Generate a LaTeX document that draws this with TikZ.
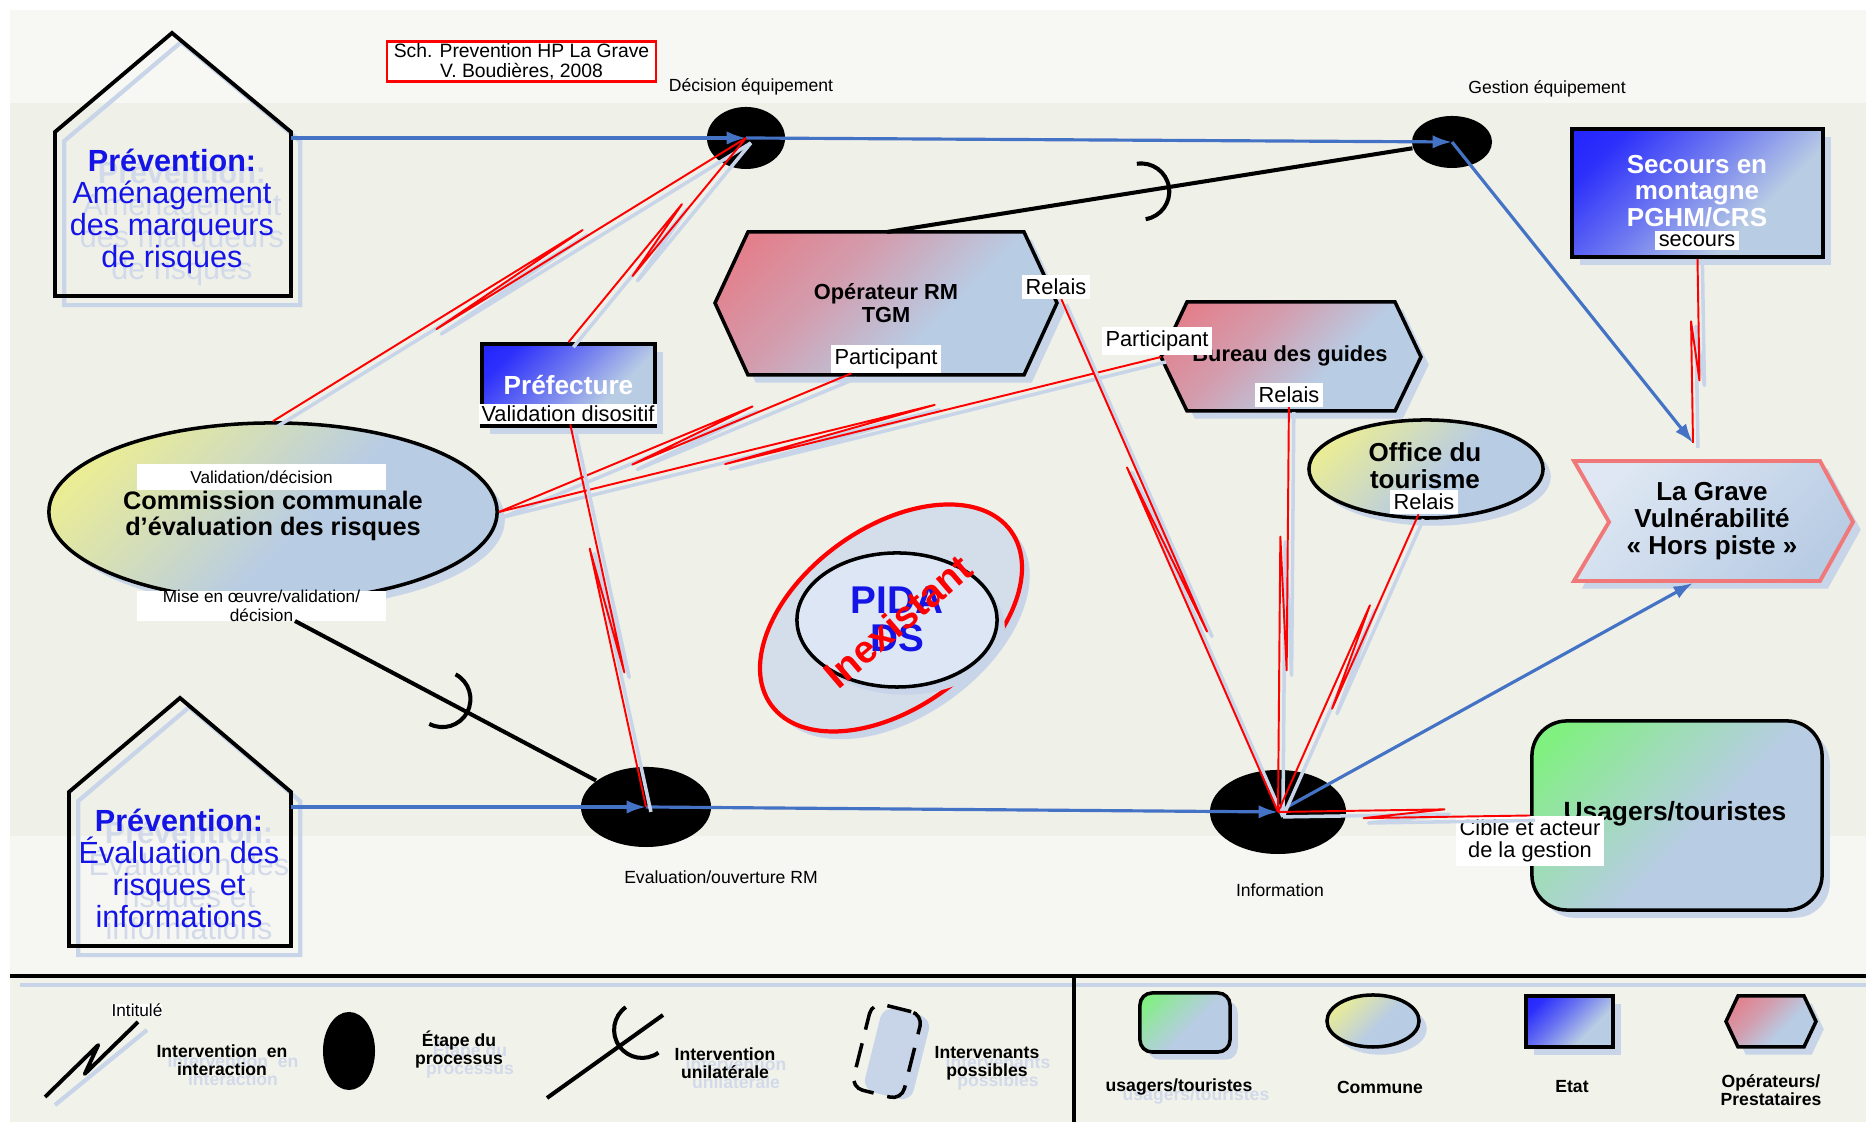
\documentclass[tikz,border=0pt]{standalone}
\usepackage{fontspec}
\setmainfont{Liberation Sans}
\usepackage{tikz}
\usetikzlibrary{positioning,arrows.meta,shapes.geometric,calc,shadows}

\definecolor{flowblue}{RGB}{68,114,196}
\definecolor{shadowblue}{RGB}{200,212,232}
\definecolor{steel}{RGB}{184,204,228}
\definecolor{stateblue}{RGB}{20,20,255}
\definecolor{opred}{RGB}{236,112,122}
\definecolor{comyellow}{RGB}{240,240,140}
\definecolor{usagreen}{RGB}{128,240,128}
\definecolor{textblue}{RGB}{20,20,230}
\definecolor{ghost}{RGB}{210,218,234}
\definecolor{gravered}{RGB}{240,120,120}
\definecolor{gravelight}{RGB}{222,231,243}
\definecolor{pidafill}{RGB}{212,222,234}
\definecolor{pidain}{RGB}{220,230,245}
\definecolor{bgtop}{RGB}{247,247,244}
\definecolor{bgmid}{RGB}{239,240,232}
\definecolor{bgbot}{RGB}{246,246,243}
\definecolor{bgleg}{RGB}{241,242,234}
\colorlet{redmid}{opred!50!steel}
\colorlet{redhigh}{opred!85!steel}
\colorlet{bluemid}{stateblue!45!steel}
\colorlet{bluehigh}{stateblue!85!steel}
\colorlet{yellowmid}{comyellow!50!steel}
\colorlet{greenmid}{usagreen!45!steel}

% corner gradients, strong colour in the top left corner only
\pgfdeclareverticalshading{redcorner}{100bp}{color(0bp)=(steel); color(40bp)=(steel); color(60bp)=(redmid); color(80bp)=(redhigh); color(100bp)=(opred)}
\pgfdeclareverticalshading{bluecorner}{100bp}{color(0bp)=(steel); color(35bp)=(steel); color(55bp)=(bluemid); color(75bp)=(bluehigh); color(100bp)=(stateblue)}
\pgfdeclareverticalshading{yellowcorner}{100bp}{color(0bp)=(steel); color(45bp)=(steel); color(62bp)=(yellowmid); color(80bp)=(comyellow); color(100bp)=(comyellow)}
\pgfdeclareverticalshading{greencorner}{100bp}{color(0bp)=(steel); color(45bp)=(steel); color(62bp)=(greenmid); color(80bp)=(usagreen); color(100bp)=(usagreen)}

\newcommand{\fsz}[2]{\fontsize{#1}{#2}\selectfont}

% red interaction link with the small N in the middle
\newcommand{\interlink}[2]{%
  \draw[interact shadow] (#1) -- ($(#1)!0.66!(#2)!1.4pt!90:(#2)$) -- ($(#1)!0.34!(#2)!1.4pt!-90:(#2)$) -- (#2);
  \draw[interact] (#1) -- ($(#1)!0.66!(#2)!1.4pt!90:(#2)$) -- ($(#1)!0.34!(#2)!1.4pt!-90:(#2)$) -- (#2);}

% half circle on a unilateral link, open side towards the source
\newcommand{\socket}[3]{%
  \draw[unilat] let \p1=($(#2)-(#1)$), \n1={atan2(\y1,\x1)} in
    ($(#1)!#3!(#2)$) ++(\n1+90:0.28cm) arc[start angle=\n1+90,end angle=\n1-90,radius=0.28cm];}

\begin{document}
\begin{tikzpicture}[x=0.01cm,y=0.01cm,
  stage/.style={ellipse,fill=black,inner sep=0pt},
  steptext/.style={font=\fsz{5}{6}},
  tag/.style={fill=white,inner sep=1pt,font=\fsz{6.2}{6.4}},
  smalltag/.style={fill=white,inner sep=0pt,font=\fsz{4.9}{5.2},align=center},
  flow/.style={-{Latex[length=5.5pt,width=3.8pt]},line width=0.9pt,flowblue},
  interact/.style={red,line width=0.55pt,line join=round},
  interact shadow/.style={shadowblue,line width=1pt,line join=round,transform canvas={xshift=1.4pt,yshift=-1.4pt}},
  unilat/.style={black,line width=1.15pt},
  shadowed/.style={general shadow={fill=shadowblue,shadow xshift=2.2pt,shadow yshift=-2.2pt}},
  actor/.style={draw=black,line width=1pt,shadowed},
  opfill/.style={shade,shading=redcorner,shading angle=45},
  statefill/.style={shade,shading=bluecorner,shading angle=45},
  comfill/.style={shade,shading=yellowcorner,shading angle=45},
  usafill/.style={shade,shading=greencorner,shading angle=45},
  house/.style={line width=1.1pt,line join=miter},
  houseshadow/.style={shadowblue,line width=1.2pt,transform canvas={xshift=2.6pt,yshift=-2.6pt}},
  title/.style={font=\fsz{8.7}{9.1},text=textblue,align=center},
  ghosttitle/.style={title,text=ghost},
  legtext/.style={font=\fsz{5}{5.1}\bfseries,align=center},
  legghost/.style={legtext,text=ghost},
]
\useasboundingbox (0,0) rectangle (1866,1122);

% === background ===
\fill[white] (0,0) rectangle (1866,1122);
\fill[bgtop] (10,1019) rectangle (1866,1112);
\fill[bgmid] (10,286) rectangle (1866,1019);
\fill[bgbot] (10,146) rectangle (1866,286);
\fill[bgleg] (10,0) rectangle (1866,146);

% === houses ===
\draw[houseshadow] (55,826) -- (55,990) -- (172,1089) -- (291,990) -- (291,826) -- cycle;
\draw[house] (55,826) -- (55,990) -- (172,1089) -- (291,990) -- (291,826) -- cycle;
\node[ghosttitle] at (182,899) {\textbf{Prévention:}\\Aménagement\\des marqueurs\\de risques};
\node[title] (prevA) at (172,911) {\textbf{Prévention:}\\Aménagement\\des marqueurs\\de risques};
\coordinate (h1out) at (291,984);

\draw[houseshadow] (69,176) -- (69,330) -- (180,424) -- (291,330) -- (291,176) -- cycle;
\draw[house] (69,176) -- (69,330) -- (180,424) -- (291,330) -- (291,176) -- cycle;
\node[ghosttitle] at (189,242) {\textbf{Prévention:}\\Évaluation des\\risques et\\informations};
\node[title] (prevB) at (179,254) {\textbf{Prévention:}\\Évaluation des\\risques et\\informations};
\coordinate (h2out) at (291,315);

% === title box ===
\node[draw=red,line width=0.8pt,fill=white,align=center,font=\fsz{5.5}{5.6},minimum width=2.69cm,minimum height=0.39cm,inner sep=0.5pt] (sch) at (521.5,1060.5) {Sch. Prevention HP La Grave\\V. Boudières, 2008};

% === actors ===
\path[actor,opfill] (748,890) -- (1024,890) -- (1057,819) -- (1024,747) -- (748,747) -- (715,819) -- cycle;
\node[font=\fsz{6.2}{6.4}\bfseries,align=center] (oper) at (886,819) {Opérateur RM\\TGM};
\coordinate (operTop) at (887,890);

\path[actor,opfill] (1187,820) -- (1395,820) -- (1421,765) -- (1395,711) -- (1187,711) -- (1161,765) -- cycle;
\node[font=\fsz{6.2}{6.4}\bfseries] (bureau) at (1290,766) {Bureau des guides};
\coordinate (burW) at (1161,765);

\node[actor,rectangle,statefill,minimum width=1.73cm,minimum height=0.82cm,text=white,font=\fsz{7.45}{8}\bfseries] (pref) at (568.5,737) {Préfecture};
\node[actor,rectangle,statefill,minimum width=2.51cm,minimum height=1.28cm] (secours) at (1697.5,929) {};
\node[text=white,font=\fsz{7.4}{7.6}\bfseries,align=center] (secT) at (1697,931) {Secours en\\montagne\\PGHM/CRS};

\path[draw=gravered,line width=1.1pt,shadowed,top color=gravelight,bottom color=steel,shading angle=45] (1574,661) -- (1820,661) -- (1853,600) -- (1820,541) -- (1574,541) -- (1609,600) -- cycle;
\node[font=\fsz{7.4}{7.6}\bfseries,align=center] (grave) at (1712,601) {La Grave\\Vulnérabilité\\« Hors piste »};
\coordinate (lgTop) at (1693,679);
\coordinate (lgBot) at (1693,539);

\node[actor,ellipse,comfill,minimum width=2.34cm,minimum height=0.98cm,inner sep=0pt] (office) at (1426,653) {};
\node[font=\fsz{7.4}{7.8}\bfseries,align=center] (officeT) at (1425,656) {Office du\\tourisme};

\node[actor,ellipse,comfill,minimum width=4.48cm,minimum height=1.78cm,inner sep=0pt] (comm) at (273,610) {};
\node[font=\fsz{7.2}{7.4}\bfseries,align=center] (commT) at (273,606) {Commission communale\\d’évaluation des risques};

\node[actor,rectangle,rounded corners=0.35cm,usafill,minimum width=2.9cm,minimum height=1.89cm] (usag) at (1677,306.5) {};
\node[font=\fsz{7.5}{8}\bfseries] (usagT) at (1675,308) {Usagers/touristes};

% === PIDA DS ===
\node[ellipse,draw=red,line width=1.2pt,fill=pidafill,minimum width=2.96cm,minimum height=1.8cm,rotate=36,shadowed] (pidaOut) at (891,504) {};
\node[ellipse,draw=black,line width=1pt,fill=pidain,minimum width=2cm,minimum height=1.34cm,shadowed] (pida) at (897,502) {};
\node[font=\fsz{11}{10.8}\bfseries,text=textblue,align=center] (pidaT) at (897,503) {PIDA\\DS};
\node[font=\fsz{11}{12}\bfseries,text=red,rotate=40.5] (inex) at (898,501) {Inexistant};

% === process steps ===
\node[stage,minimum width=0.78cm,minimum height=0.62cm] (e1) at (746,984) {};
\node[steptext] (e1L) at (751,1035) {Décision équipement};
\node[stage,minimum width=0.80cm,minimum height=0.52cm] (e2) at (1452,980) {};
\node[steptext] (e2L) at (1547,1033) {Gestion équipement};
\node[stage,minimum width=1.30cm,minimum height=0.80cm] (e3) at (646,315) {};
\node[steptext] (e3L) at (721,245) {Evaluation/ouverture RM};
\node[stage,minimum width=1.36cm,minimum height=0.84cm] (e4) at (1278,310) {};
\node[steptext] (e4L) at (1280,232) {Information};

% === tags on the actors ===
\node[tag] (relO) at (1056,835) {Relais};
\node[tag] (partO) at (886,763) {Participant};
\node[tag] (partB) at (1157,781) {Participant};
\node[tag] (relB) at (1289,727) {Relais};
\node[tag,minimum width=1.78cm,inner sep=0.5pt] (valid) at (568,708) {Validation disositif};
\node[tag] (secL) at (1697,881) {secours};
\node[tag] (relOf) at (1424,620) {Relais};
\node[smalltag,minimum width=2.49cm,minimum height=0.26cm] (valL) at (261.5,645) {Validation/décision};
\node[smalltag,minimum width=2.49cm,minimum height=0.28cm] (misL) at (261.5,516) {Mise en œuvre/validation/\\décision};
\node[tag,align=center] (cible) at (1530,281) {Cible et acteur\\de la gestion};
\coordinate (misOut) at (295,501);

% === process flow ===
\draw[flow] (h1out) -- (e1.center);
\draw[flow] (e1.center) -- (e2.center);
\draw[flow] (e2.center) -- (lgTop);
\draw[flow] (h2out) -- (e3.center);
\draw[flow] (e3.center) -- (e4.center);
\draw[flow] (e4.center) -- (lgBot);

% === unilateral interventions ===
\draw[unilat] (operTop) -- (e2);
\socket{operTop}{e2}{0.45}
\draw[unilat] (misOut) -- (e3);
\socket{misOut}{e3}{0.42}

% === interactions ===
\interlink{comm.north}{e1.center}
\interlink{pref.north}{e1.center}
\interlink{partO}{comm.east}
\interlink{burW}{comm.east}
\interlink{valid}{e3.center}
\interlink{relO}{e4.center}
\interlink{relB}{e4.center}
\interlink{relOf}{e4.center}
\interlink{secours.south}{lgTop}
\interlink{usag.west}{e4.center}

% === legend ===
\draw[shadowblue,line width=1.2pt] (20,137) -- (1866,137);
\draw[line width=1.2pt] (10,146) -- (1866,146);
\draw[line width=1.2pt] (1074,146) -- (1074,0);

\coordinate (legA) at (45,25);
\coordinate (legB) at (138,100);
\draw[shadowblue,line width=1.2pt] (55,17) -- (147,92);
\draw[line width=1.1pt,line join=round] (legA) -- ($(legA)!0.62!(legB)!2pt!90:(legB)$) -- ($(legA)!0.38!(legB)!2pt!-90:(legB)$) -- (legB);
\node[smalltag] (intit) at (137,112) {Intitulé};
\node[legghost] at (233,52) {Intervention\ \ en\\interaction};
\node[legtext] (legInter) at (222,62) {Intervention\ \ en\\interaction};

\node[stage,minimum width=0.52cm,minimum height=0.78cm] (legStage) at (349,71) {};
\node[legghost] at (470,62) {Étape du\\processus};
\node[legtext] (legStageT) at (459,72) {Étape du\\processus};

\coordinate (legUa) at (663,107);
\coordinate (legUb) at (547,24);
\draw[unilat] (legUa) -- (legUb);
\socket{legUa}{legUb}{0.18}
\node[legghost] at (736,49) {Intervention\\unilatérale};
\node[legtext] (legUT) at (725,59) {Intervention\\unilatérale};

\node[rectangle,rounded corners=0.12cm,fill=shadowblue,minimum width=0.5cm,minimum height=0.86cm,rotate=-14] (legPossF) at (897,68) {};
\node[rectangle,rounded corners=0.12cm,draw,line width=1pt,dash pattern=on 7pt off 4pt,minimum width=0.52cm,minimum height=0.88cm,rotate=-14] (legPoss) at (887,71) {};
\node[legghost] at (998,49) {Intervenants\\possibles};
\node[legtext] (legPossT) at (987,59) {Intervenants\\possibles};

\node[actor,rectangle,rounded corners=0.12cm,usafill,minimum width=0.9cm,minimum height=0.59cm] (legUsa) at (1185,99.5) {};
\node[legghost] at (1196,26) {usagers/touristes};
\node[legtext] (legUsaT) at (1179,35) {usagers/touristes};
\node[actor,ellipse,comfill,minimum width=0.92cm,minimum height=0.52cm,inner sep=0pt] (legCom) at (1373,101) {};
\node[legtext] (legComT) at (1380,35) {Commune};
\node[actor,rectangle,statefill,minimum width=0.87cm,minimum height=0.51cm] (legEtat) at (1569.5,100.5) {};
\node[legtext] (legEtatT) at (1572,35) {Etat};
\path[actor,opfill] (1726,100.5) -- (1738,126) -- (1804,126) -- (1816,100.5) -- (1804,75) -- (1738,75) -- cycle;
\node[legtext] (legOpT) at (1771,32) {Opérateurs/\\Prestataires};

\end{tikzpicture}
\end{document}
